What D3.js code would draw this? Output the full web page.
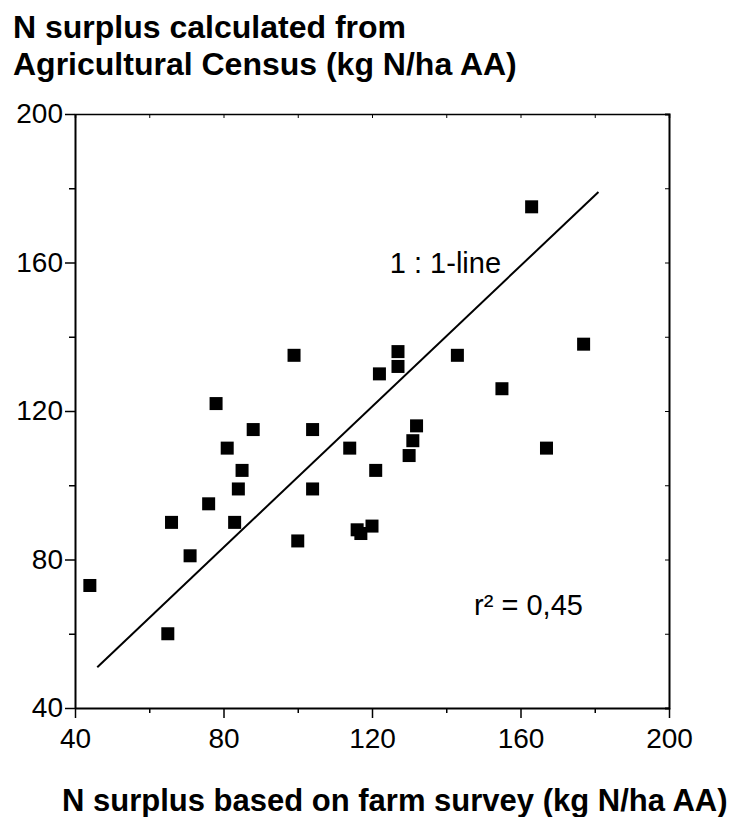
<!DOCTYPE html>
<html>
<head>
<meta charset="utf-8">
<script src="https://cdn.jsdelivr.net/npm/d3@7"></script>
<style>
  html, body { margin: 0; padding: 0; background: #fff; }
  #chart { width: 751px; height: 817px; }
  text { font-family: "Liberation Sans", Arial, sans-serif; fill: #000; }
</style>
</head>
<body>
<div id="chart"></div>
<script>
// farm survey (x) vs agricultural census (y), kg N/ha AA
const surveyValues = [44, 65, 66, 71, 76, 78, 81, 83, 84, 85, 88, 99, 100, 104, 104, 114,
  116, 117, 120, 121, 122, 127, 127, 130, 131, 132, 143, 155, 163, 167, 177];
const censusValues = [73, 60, 90, 81, 95, 122, 110, 90, 99, 104, 115, 135, 85, 115, 99, 110,
  88, 87, 89, 104, 130, 136, 132, 108, 112, 116, 135, 126, 175, 110, 138];
const lineX = [46, 181];
const lineY = [51, 179];
const tickValues = [40, 80, 120, 160, 200];
const minorTicks = [60, 100, 140, 180];
const titleLines = ["N surplus calculated from", "Agricultural Census (kg N/ha AA)"];
const xTitle = "N surplus based on farm survey (kg N/ha AA)";

const w = 751, h = 817;
const margin = { left: 75, right: w - 669, top: 114, bottom: h - 708 };
const fontFam = "Liberation Sans, Arial, sans-serif";

const svg = d3.select("#chart").append("svg")
  .attr("width", w)
  .attr("height", h);

const xScale = d3.scaleLinear().domain([40, 200]).range([margin.left, w - margin.right]);
const yScale = d3.scaleLinear().domain([40, 200]).range([h - margin.bottom, margin.top]);

const allTicks = tickValues.concat(minorTicks).sort(d3.ascending);

// top + right frame, small ticks pointing in
svg.append("g")
  .attr("transform", `translate(0, ${margin.top})`)
  .call(d3.axisTop(xScale).tickValues(allTicks).tickSize(-4).tickFormat(""))
  .call(g => g.select(".domain").attr("stroke-width", 1.5));
svg.append("g")
  .attr("transform", `translate(${w - margin.right}, 0)`)
  .call(d3.axisRight(yScale).tickValues(allTicks).tickSize(-4).tickFormat(""))
  .call(g => g.select(".domain").attr("stroke-width", 2));

// bottom axis
const xAxis = svg.append("g")
  .attr("transform", `translate(0, ${h - margin.bottom})`)
  .call(d3.axisBottom(xScale).tickValues(tickValues).tickSize(10).tickSizeOuter(0).tickPadding(10));
xAxis.select(".domain").attr("stroke-width", 2);
xAxis.selectAll(".tick line").attr("stroke-width", 1.5);
xAxis.selectAll("text").attr("font-size", 28).attr("font-family", fontFam);
svg.append("g")
  .attr("transform", `translate(0, ${h - margin.bottom})`)
  .call(d3.axisBottom(xScale).tickValues(minorTicks).tickSize(5).tickFormat(""))
  .call(g => g.select(".domain").remove())
  .selectAll("line").attr("stroke-width", 1.5);

// left axis
const yAxis = svg.append("g")
  .attr("transform", `translate(${margin.left}, 0)`)
  .call(d3.axisLeft(yScale).tickValues(tickValues).tickSize(10).tickSizeOuter(0).tickPadding(2));
yAxis.select(".domain").attr("stroke-width", 2);
yAxis.selectAll(".tick line").attr("stroke-width", 1.5);
yAxis.selectAll("text").attr("font-size", 28).attr("font-family", fontFam);
svg.append("g")
  .attr("transform", `translate(${margin.left}, 0)`)
  .call(d3.axisLeft(yScale).tickValues(minorTicks).tickSize(6).tickFormat(""))
  .call(g => g.select(".domain").remove())
  .selectAll("line").attr("stroke-width", 1.5);

// 1:1 line
svg.append("path")
  .datum(d3.zip(lineX, lineY))
  .attr("fill", "none")
  .attr("stroke", "#000")
  .attr("stroke-width", 2)
  .attr("d", d3.line().x(d => xScale(d[0])).y(d => yScale(d[1])));

// points
const s = 13;
svg.append("g").selectAll("rect")
  .data(d3.zip(surveyValues, censusValues))
  .join("rect")
  .attr("x", d => xScale(d[0]) - s / 2)
  .attr("y", d => yScale(d[1]) - s / 2)
  .attr("width", s)
  .attr("height", s)
  .attr("fill", "#000");

// annotations
svg.append("text")
  .attr("x", xScale(124.8)).attr("y", yScale(157.2))
  .attr("font-size", 29)
  .text("1 : 1-line");
svg.append("text")
  .attr("x", xScale(147.5)).attr("y", yScale(65))
  .attr("font-size", 29)
  .text("r² = 0,45");

// titles
svg.append("text")
  .attr("x", 13).attr("y", 38)
  .attr("font-size", 32).attr("font-weight", "bold")
  .selectAll("tspan")
  .data(titleLines)
  .join("tspan")
  .attr("x", 13)
  .attr("dy", (d, i) => i ? 37 : 0)
  .text(d => d);

svg.append("text")
  .attr("x", 62).attr("y", 811)
  .attr("font-size", 31).attr("font-weight", "bold")
  .text(xTitle);
</script>
</body>
</html>
